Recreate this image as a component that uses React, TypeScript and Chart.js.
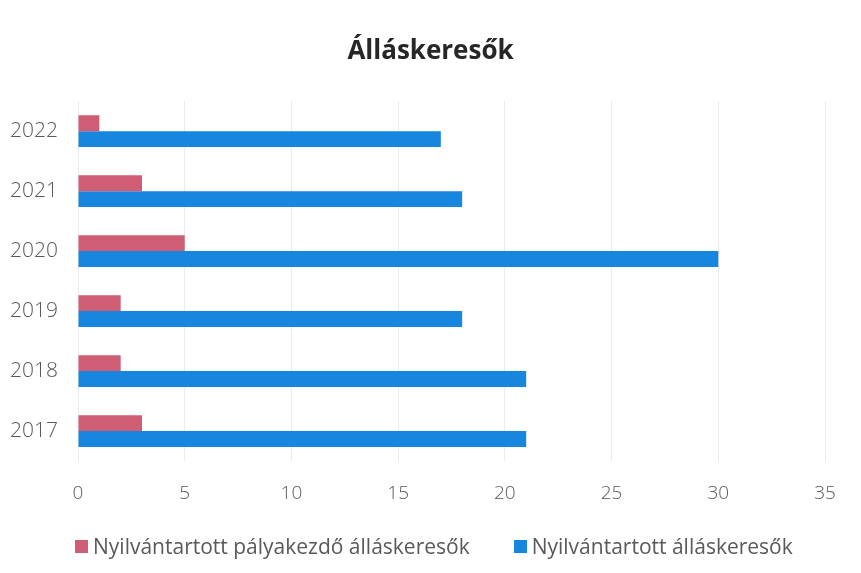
import React, { useEffect, useRef } from "react";
import { Chart, registerables } from "chart.js";

Chart.register(...registerables);

const years = ["2022", "2021", "2020", "2019", "2018", "2017"];
const palyakezdo = [1, 3, 5, 2, 2, 3];
const osszes = [17, 18, 30, 18, 21, 21];
const xTicks = [0, 5, 10, 15, 20, 25, 30, 35];
const seriesNames = ["Nyilvántartott pályakezdő álláskeresők", "Nyilvántartott álláskeresők"];
const seriesColors = ["#cf5e74", "#1686df"];
const titleText = "Álláskeresők";

const FONT = "'Open Sans', 'Liberation Sans', sans-serif";

export default function App() {
  const ref = useRef<HTMLCanvasElement | null>(null);
  useEffect(() => {
    document.body.style.margin = "0";
    const ctx = ref.current!;
    const chart = new Chart(ctx, {
      type: "bar",
      data: {
        labels: years,
        datasets: [
          {
            label: seriesNames[0],
            data: palyakezdo,
            backgroundColor: seriesColors[0],
            barPercentage: 1,
            categoryPercentage: 0.53,
          },
          {
            label: seriesNames[1],
            data: osszes,
            backgroundColor: seriesColors[1],
            barPercentage: 1,
            categoryPercentage: 0.53,
          },
        ],
      },
      options: {
        indexAxis: "y",
        animation: false,
        responsive: false,
        maintainAspectRatio: false,
        layout: { padding: { left: 0, right: 0, top: 0, bottom: 47 } },
        plugins: {
          title: {
            display: true,
            text: titleText,
            color: "#262626",
            font: { family: FONT, size: 26, weight: "bold" },
            padding: { top: 36, bottom: 34 },
          },
          legend: { display: false },
          tooltip: { enabled: false },
        },
        scales: {
          x: {
            min: 0,
            max: 35,
            afterBuildTicks: (s: any) => {
              s.ticks = xTicks.map((v) => ({ value: v }));
            },
            afterFit: (s: any) => {
              s.height = 65;
            },
            ticks: {
              color: "#595959",
              font: { family: FONT, size: 19, weight: 300 },
              padding: 21,
            },
            grid: { color: "#ebebeb", drawTicks: false },
            border: { display: false },
          },
          y: {
            afterFit: (s: any) => {
              s.width = 78;
            },
            ticks: {
              color: "#595959",
              font: { family: FONT, size: 21, weight: 300 },
              padding: 20,
            },
            grid: { display: false, drawTicks: false },
            border: { display: false },
          },
          yRight: {
            type: "category",
            labels: years,
            position: "right",
            display: true,
            afterFit: (s: any) => {
              s.width = 36;
            },
            ticks: { display: false },
            grid: { display: false, drawTicks: false },
            border: { display: false },
          },
        },
      },
    });
    return () => chart.destroy();
  }, []);
  const legendText: React.CSSProperties = {
    fontFamily: FONT,
    fontSize: 21,
    color: "#595959",
    fontWeight: 400,
    whiteSpace: "nowrap",
    lineHeight: "24px",
  };
  const box = (c: string): React.CSSProperties => ({
    width: 13,
    height: 13,
    background: c,
    marginRight: 5,
    flex: "none",
  });
  return (
    <div style={{ width: 861, height: 573, background: "#fff", position: "relative" }}>
      <canvas ref={ref} width={861} height={573} style={{ width: 861, height: 573, display: "block" }} />
      <div
        style={{
          position: "absolute",
          left: 75,
          top: 534,
          height: 24,
          display: "flex",
          alignItems: "center",
        }}
      >
        <div style={box(seriesColors[0])} />
        <span style={legendText}>{seriesNames[0]}</span>
        <div style={{ ...box(seriesColors[1]), marginLeft: 44 }} />
        <span style={legendText}>{seriesNames[1]}</span>
      </div>
    </div>
  );
}
